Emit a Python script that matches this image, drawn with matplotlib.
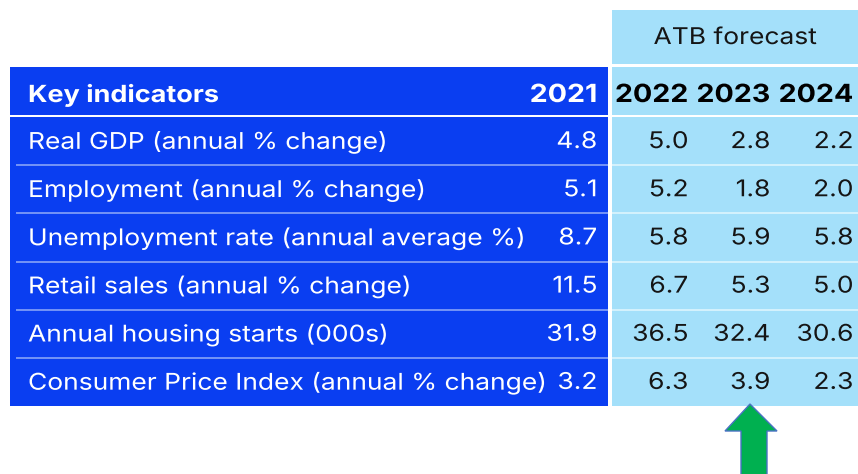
import matplotlib
matplotlib.use("Agg")
import matplotlib.pyplot as plt
from matplotlib.patches import Rectangle, Polygon
from matplotlib.patheffects import AbstractPathEffect
from matplotlib.transforms import Affine2D

plt.rcParams['font.family'] = ['Inter', 'DejaVu Sans']

# ---- data ----
indicators = [
    "Real GDP (annual % change)",
    "Employment (annual % change)",
    "Unemployment rate (annual average %)",
    "Retail sales (annual % change)",
    "Annual housing starts (000s)",
    "Consumer Price Index (annual % change)",
]
years = ["2021", "2022", "2023", "2024"]
values_2021 = [4.8, 5.1, 8.7, 11.5, 31.9, 3.2]
values_2022 = [5.0, 5.2, 5.8, 6.7, 36.5, 6.3]
values_2023 = [2.8, 1.8, 5.9, 5.3, 32.4, 3.9]
values_2024 = [2.2, 2.0, 5.8, 5.0, 30.6, 2.3]
header_label = "Key indicators"
forecast_label = "ATB forecast"


class Stretch(AbstractPathEffect):
    """Widen glyphs horizontally (the reference text is slightly wide)."""
    def __init__(self, sx, anchor="left"):
        super().__init__()
        self.sx = sx
        self.anchor = anchor

    def draw_path(self, renderer, gc, tpath, affine, rgbFace=None):
        ext = tpath.get_extents()
        if self.anchor == "right":
            a = ext.x1
        elif self.anchor == "center":
            a = (ext.x0 + ext.x1) / 2
        else:
            a = 0.0
        t = Affine2D().translate(-a, 0).scale(self.sx, 1).translate(a, 0) + affine
        renderer.draw_path(gc, tpath, t, rgbFace)


SX = 1.145


def txt(ax, x, y, s, ha="left", **kw):
    return ax.text(x, y, s, ha=ha, va="center",
                   path_effects=[Stretch(SX, ha)], **kw)


W, H = 858, 474
fig = plt.figure(figsize=(W / 100, H / 100), dpi=100)
ax = fig.add_axes([0, 0, 1, 1])
ax.set_xlim(0, W)
ax.set_ylim(H, 0)
ax.axis("off")

BLUE = "#0a3ef1"
LIGHT = "#a4e0fa"
DARK = "#151515"

body_fs = 16.6
hdr_fs = 17.0
year_fs = 18.0

# geometry
bx0, bx1 = 10, 608
lx0, lx1 = 612, 858
hdr_top, hdr_bot = 67, 115
body_top, body_bot = 117, 406
atb_top, atb_bot = 10, 64
n = len(indicators)
rh = (body_bot - body_top) / n

# backgrounds
ax.add_patch(Rectangle((bx0, hdr_top), bx1 - bx0, hdr_bot - hdr_top, color=BLUE, lw=0))
ax.add_patch(Rectangle((bx0, body_top), bx1 - bx0, body_bot - body_top, color=BLUE, lw=0))
ax.add_patch(Rectangle((lx0, atb_top), lx1 - lx0, atb_bot - atb_top, color=LIGHT, lw=0))
ax.add_patch(Rectangle((lx0, hdr_top), lx1 - lx0, hdr_bot - hdr_top, color=LIGHT, lw=0))
ax.add_patch(Rectangle((lx0, body_top), lx1 - lx0, body_bot - body_top, color=LIGHT, lw=0))

# row separators
for i in range(1, n):
    y = body_top + i * rh
    ax.plot([16, bx1], [y, y], color="#7d9bf7", lw=1.3, solid_capstyle="butt")
    ax.plot([lx0, lx1], [y, y], color="#d9f3fd", lw=1.3, solid_capstyle="butt")

# header texts
hy = (hdr_top + hdr_bot) / 2 + 4.5
txt(ax, 28, hy, header_label, color="white", fontsize=hdr_fs, fontweight="bold")
col_right = [597, 688, 770, 853]
txt(ax, col_right[0], hy, years[0], ha="right", color="white", fontsize=year_fs,
    fontweight="bold")
for xr, yr in zip(col_right[1:], years[1:]):
    txt(ax, xr, hy, yr, ha="right", color="black", fontsize=year_fs, fontweight="bold")
txt(ax, 735, (atb_top + atb_bot) / 2 + 1, forecast_label, ha="center", color=DARK,
    fontsize=body_fs)

# body texts
series = [values_2022, values_2023, values_2024]
for i, name in enumerate(indicators):
    cy = body_top + (i + 0.5) * rh + 1
    txt(ax, 28, cy, name, color="white", fontsize=body_fs)
    txt(ax, col_right[0], cy, f"{values_2021[i]:.1f}", ha="right", color="white",
        fontsize=body_fs)
    for xr, vals in zip(col_right[1:], series):
        txt(ax, xr, cy, f"{vals[i]:.1f}", ha="right", color=DARK, fontsize=body_fs)

# green arrow pointing at 2023 CPI
arrow = Polygon([(750, 404), (777, 431), (767, 431), (767, 480), (741, 480),
                 (741, 431), (725, 431)], closed=True, facecolor="#00b050",
                edgecolor="#4a72c4", lw=1.0)
ax.add_patch(arrow)

fig.savefig("out.png", dpi=100)
